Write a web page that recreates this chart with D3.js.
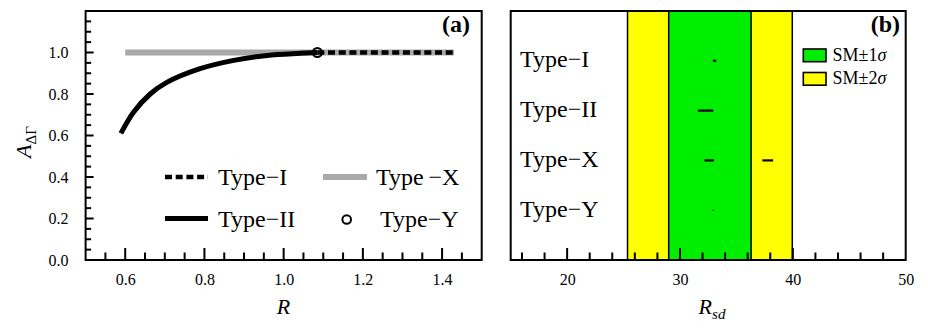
<!DOCTYPE html>
<html><head><meta charset="utf-8">
<script src="https://cdn.jsdelivr.net/npm/d3@7"></script>
</head><body style="margin:0;background:#fff"><svg id="c" width="928" height="329" style="display:block" font-family="'Liberation Serif', 'Times New Roman', Times, 'DejaVu Serif', serif"></svg>
<script>
// Panel (a) data
const typeIIR = [0.589,0.621,0.663,0.705,0.789,0.874,0.958,1.042,1.085];
const typeIIA = [0.610,0.712,0.800,0.856,0.922,0.962,0.986,0.996,1.0];
const typeXR = [0.60,1.43];
const typeXA = [1.0,1.0];
const typeIR = [1.085,1.43];
const typeIA = [1.0,1.0];
const typeYR = [1.085];
const typeYA = [1.0];
const aXTicks = [0.6,0.8,1.0,1.2,1.4];
const aXMinor = [0.55,0.65,0.7,0.75,0.85,0.9,0.95,1.05,1.1,1.15,1.25,1.3,1.35,1.45];
const aYTicks = [0.0,0.2,0.4,0.6,0.8,1.0];
const aYMinor = [0.05,0.1,0.15,0.25,0.3,0.35,0.45,0.5,0.55,0.65,0.7,0.75,0.85,0.9,0.95,1.05,1.1,1.15];
// Panel (b) data
const bCategories = ["Type\u2212I","Type\u2212II","Type\u2212X","Type\u2212Y"];
const bRanges = [[[32.92,33.21]],[[31.59,32.95]],[[32.18,33.01],[37.30,38.25]],[[32.89,33.01]]];
const smCenter = 32.65, smSigma = 3.65;
const bXTicks = [20,30,40,50];
const bXMinor = [16,18,22,24,26,28,32,34,36,38,42,44,46,48];

const svg = d3.select("#c");
const plotTop = 11, plotBottom = 260;
const FONT = "'Liberation Serif', 'Times New Roman', Times, 'DejaVu Serif', serif";
const TICK = "#000";

function styleAxis(g){
  g.select(".domain").remove();
  g.attr("font-family",FONT);
  g.selectAll(".tick line").remove();
  g.selectAll(".tick text").attr("font-family",FONT).attr("font-size",16).attr("fill","#000");
}
function xTickMarks(g, scale, values, len){
  g.selectAll(null).data(values).join("rect")
    .attr("x",d=>scale(d)-1).attr("y",plotBottom-len).attr("width",2).attr("height",len).attr("fill",TICK);
}
function yTickMarks(g, scale, x0, values, len){
  g.selectAll(null).data(values).join("rect")
    .attr("x",x0).attr("y",d=>scale(d)-1).attr("width",len).attr("height",2).attr("fill",TICK);
}

// ---------- Panel a ----------
const xa = d3.scaleLinear().domain([0.5,1.5]).range([85.6,481.7]);
const ya = d3.scaleLinear().domain([0,1.2]).range([plotBottom,plotTop]);
const ga = svg.append("g");

const lineA = d3.line().x(d=>xa(d[0])).y(d=>ya(d[1]));
ga.append("path").attr("d",lineA(d3.zip(typeXR,typeXA))).attr("fill","none").attr("stroke","#a9a9a9").attr("stroke-width",6);
ga.append("path").attr("d",d3.line().x(d=>xa(d[0])).y(d=>ya(d[1])).curve(d3.curveCatmullRom.alpha(0.5))(d3.zip(typeIIR,typeIIA))).attr("fill","none").attr("stroke","#000").attr("stroke-width",5);
ga.append("path").attr("d",lineA(d3.zip(typeIR,typeIA))).attr("fill","none").attr("stroke","#000").attr("stroke-width",4.5).attr("stroke-dasharray","7,3.7");
typeYR.forEach((r,i)=>ga.append("circle").attr("cx",xa(r)).attr("cy",ya(typeYA[i])).attr("r",4.5).attr("fill","none").attr("stroke","#000").attr("stroke-width",2));

ga.append("g").attr("transform",`translate(0,${plotBottom})`)
  .call(d3.axisBottom(xa).tickValues(aXTicks).tickSize(0).tickPadding(14).tickFormat(d3.format(".1f")))
  .call(styleAxis);
ga.append("g").attr("transform",`translate(${xa(0.5)},0)`)
  .call(d3.axisLeft(ya).tickValues(aYTicks).tickSize(0).tickPadding(17).tickFormat(d3.format(".1f")))
  .call(styleAxis);
const gat = ga.append("g");
xTickMarks(gat, xa, aXMinor, 7.5);
xTickMarks(gat, xa, aXTicks, 12);
yTickMarks(gat, ya, xa(0.5), aYMinor, 5.5);
yTickMarks(gat, ya, xa(0.5), aYTicks, 8);

// legend a
ga.append("line").attr("x1",165).attr("x2",208).attr("y1",177).attr("y2",177).attr("stroke","#000").attr("stroke-width",4.5).attr("stroke-dasharray","7,3.7");
ga.append("text").attr("x",218).attr("y",185).attr("font-size",24).text("Type\u2212I");
ga.append("line").attr("x1",323).attr("x2",367).attr("y1",177).attr("y2",177).attr("stroke","#a9a9a9").attr("stroke-width",6);
ga.append("text").attr("x",376).attr("y",185).attr("font-size",24).text("Type\u2009\u2212X");
ga.append("line").attr("x1",165).attr("x2",208).attr("y1",218.5).attr("y2",218.5).attr("stroke","#000").attr("stroke-width",5);
ga.append("text").attr("x",218).attr("y",226.5).attr("font-size",24).text("Type\u2212II");
ga.append("circle").attr("cx",346.7).attr("cy",219.5).attr("r",4.3).attr("fill","none").attr("stroke","#000").attr("stroke-width",2);
ga.append("text").attr("x",380).attr("y",226.5).attr("font-size",24).text("Type\u2212Y");

ga.append("text").attr("x",470).attr("y",32).attr("text-anchor","end").attr("font-size",24).attr("font-weight","bold").text("(a)");
ga.append("rect").attr("x",xa(0.5)).attr("y",plotTop).attr("width",xa(1.5)-xa(0.5)).attr("height",plotBottom-plotTop).attr("fill","none").attr("stroke","#000").attr("stroke-width",2);
ga.append("text").attr("x",283.6).attr("y",314).attr("text-anchor","middle").attr("font-size",22).attr("font-style","italic").text("R");
const yl = ga.append("text").attr("transform","translate(31,142) rotate(-90)").attr("text-anchor","middle").attr("font-size",22);
yl.append("tspan").attr("font-style","italic").text("A");
yl.append("tspan").attr("font-size",15).attr("dy",5).text("\u0394\u0393");

// ---------- Panel b ----------
const xb = d3.scaleLinear().domain([15,50]).range([510.7,905.7]);
const yb = d3.scaleLinear().domain([0,5]).range([plotBottom,plotTop]);
const gb = svg.append("g");
gb.append("rect").attr("x",xb(smCenter-2*smSigma)).attr("y",plotTop).attr("width",xb(smCenter+2*smSigma)-xb(smCenter-2*smSigma)).attr("height",plotBottom-plotTop).attr("fill","#ffff00").attr("stroke","#000").attr("stroke-width",1.5);
gb.append("rect").attr("x",xb(smCenter-smSigma)).attr("y",plotTop).attr("width",xb(smCenter+smSigma)-xb(smCenter-smSigma)).attr("height",plotBottom-plotTop).attr("fill","#00ee00").attr("stroke","#000").attr("stroke-width",1.5);

gb.append("g").attr("transform",`translate(0,${plotBottom})`)
  .call(d3.axisBottom(xb).tickValues(bXTicks).tickSize(0).tickPadding(14).tickFormat(d3.format("d")))
  .call(styleAxis);
const gbt = gb.append("g");
xTickMarks(gbt, xb, bXMinor, 7.5);
xTickMarks(gbt, xb, bXTicks.filter(v=>v<50), 12);

bCategories.forEach((c,i)=>{
  const yv = yb(4-i);
  gb.append("text").attr("x",520).attr("y",yv+6.5).attr("font-size",24).text(c);
  bRanges[i].forEach(r=>{
    gb.append("line").attr("x1",xb(r[0])).attr("x2",xb(r[1])).attr("y1",yv).attr("y2",yv).attr("stroke","#000").attr("stroke-width",i===3?1.3:2.2);
  });
});

// legend b
gb.append("rect").attr("x",803.3).attr("y",49).attr("width",22.7).attr("height",12.7).attr("fill","#00ee00").attr("stroke","#000").attr("stroke-width",1.6);
const t1 = gb.append("text").attr("x",832.5).attr("y",60.5).attr("font-size",18);
t1.append("tspan").text("SM\u00b11");
t1.append("tspan").attr("font-style","italic").text("\u03c3");
gb.append("rect").attr("x",803.3).attr("y",72.5).attr("width",22.7).attr("height",12.7).attr("fill","#ffff00").attr("stroke","#000").attr("stroke-width",1.6);
const t2 = gb.append("text").attr("x",832.5).attr("y",84).attr("font-size",18);
t2.append("tspan").text("SM\u00b12");
t2.append("tspan").attr("font-style","italic").text("\u03c3");

gb.append("text").attr("x",900).attr("y",32).attr("text-anchor","end").attr("font-size",24).attr("font-weight","bold").text("(b)");
gb.append("rect").attr("x",xb(15)).attr("y",plotTop).attr("width",xb(50)-xb(15)).attr("height",plotBottom-plotTop).attr("fill","none").attr("stroke","#000").attr("stroke-width",2);
const xl = gb.append("text").attr("x",712).attr("y",314).attr("text-anchor","middle").attr("font-size",22).attr("font-style","italic");
xl.append("tspan").text("R");
xl.append("tspan").attr("font-size",15).attr("dy",5).text("sd");
</script></body></html>
